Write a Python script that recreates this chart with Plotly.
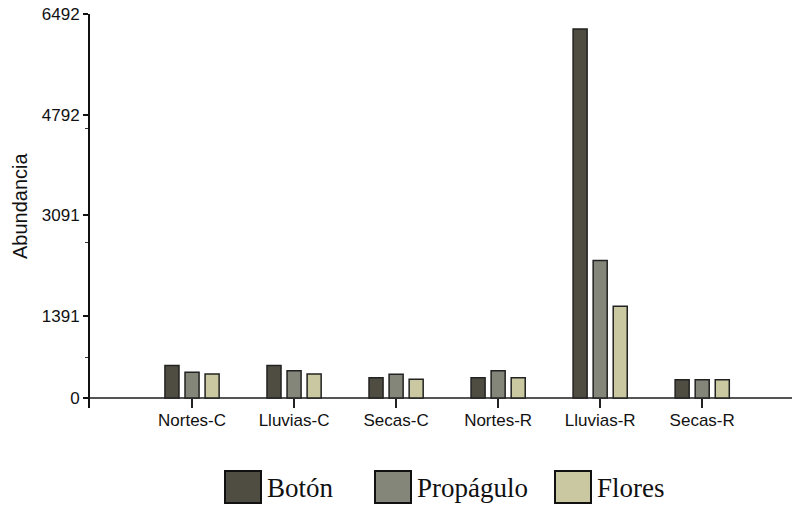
import plotly.graph_objects as go

categories = ["Nortes-C", "Lluvias-C", "Secas-C", "Nortes-R", "Lluvias-R", "Secas-R"]
series_names = ["Botón", "Propágulo", "Flores"]
boton = [548, 548, 343, 343, 6238, 309]
propagulo = [434, 462, 400, 462, 2326, 309]
flores = [406, 406, 316, 343, 1549, 309]
series_values = [boton, propagulo, flores]
colors = ["#4f4d41", "#85867a", "#c9c8a0"]
y_ticks = [0, 1391, 3091, 4792, 6492]
y_minor = [681, 2623, 4565]

W, H = 796, 506
L, R, T, B = 90, 4, 14, 98

fig = go.Figure()
for name, vals, col in zip(series_names, series_values, colors):
    fig.add_trace(go.Bar(
        x=categories, y=vals, name=name,
        marker=dict(color=col, line=dict(color="#222222", width=1.5)),
        showlegend=False,
    ))

sans = "Liberation Sans, Arial, sans-serif"
serif = "Liberation Serif, Times New Roman, serif"

fig.update_layout(
    width=W, height=H,
    margin=dict(l=L, r=R, t=T, b=B, autoexpand=False),
    paper_bgcolor="white", plot_bgcolor="white",
    barmode="group", bargap=0.41, bargroupgap=0.3,
    xaxis=dict(
        type="category", range=[-1, 5.88],
        showline=False, showgrid=False, zeroline=False,
        ticks="inside", ticklen=9, tickwidth=1.5, tickcolor="#222222",
        tickfont=dict(family=sans, size=17, color="#111111"),
    ),
    yaxis=dict(
        range=[-170, 6493],
        tickmode="array", tickvals=y_ticks, ticktext=[str(v) for v in y_ticks],
        ticklabeloverflow="allow",
        showline=True, linecolor="#111111", linewidth=2,
        showgrid=False, zeroline=True, zerolinecolor="#555555", zerolinewidth=2,
        ticks="outside", ticklen=5, tickwidth=1.5, tickcolor="#111111",
        tickfont=dict(family=sans, size=17, color="#111111"),
        minor=dict(tickmode="array", tickvals=y_minor, ticks="outside", ticklen=3,
                   tickwidth=1, tickcolor="#333333", showgrid=False),
    ),
)

pw = W - L - R
ph = H - T - B

def px_x(p):
    return (p - L) / pw

def px_y(p):
    return (H - B - p) / ph

fig.add_annotation(
    text="Abundancia", textangle=-90, xref="paper", yref="paper",
    x=px_x(20), y=px_y(206), xanchor="center", yanchor="middle", showarrow=False,
    font=dict(family=sans, size=20, color="#111111"),
)

legend_x = [225, 375, 555]
for name, col, lx in zip(series_names, colors, legend_x):
    fig.add_shape(
        type="rect", xref="paper", yref="paper",
        x0=px_x(lx), x1=px_x(lx + 36), y0=px_y(471), y1=px_y(503),
        fillcolor=col, line=dict(color="#111111", width=2),
    )
    fig.add_annotation(
        text=name, xref="paper", yref="paper", x=px_x(lx + 40), y=px_y(488),
        xanchor="left", yanchor="middle", showarrow=False,
        font=dict(family=serif, size=27, color="#111111"),
    )

# remove the browser's default 8px body margin so the figure fills the window
fig.write_html("out.html", config={"displayModeBar": False},
               post_script="document.body.style.margin='0px';")
